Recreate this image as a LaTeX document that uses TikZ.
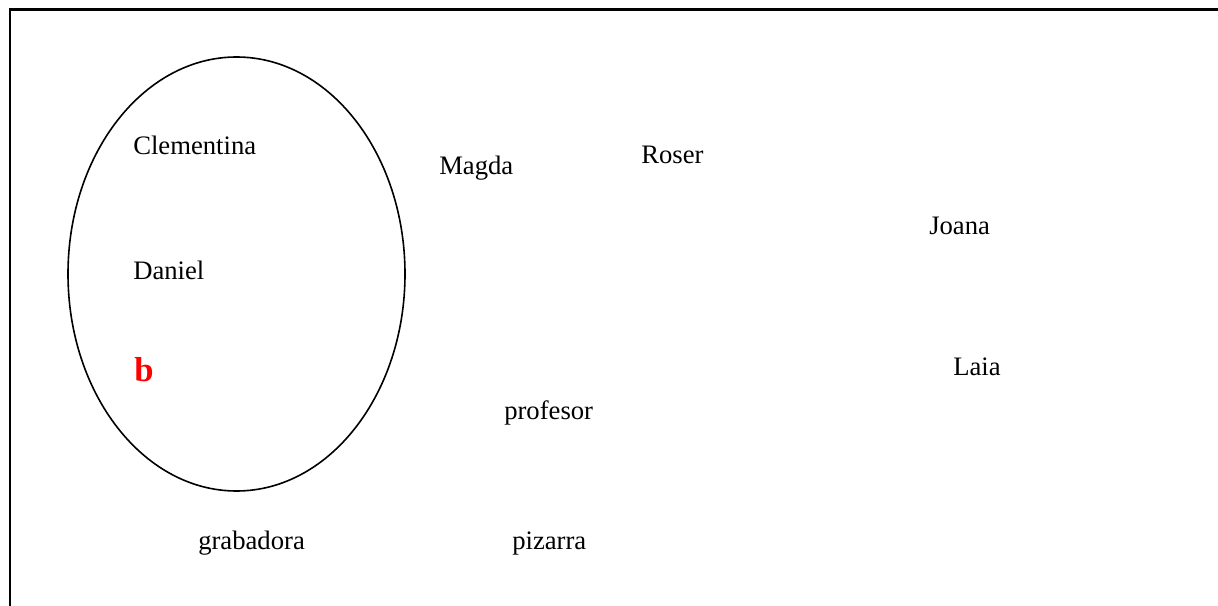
\documentclass[tikz,border=0pt]{standalone}
\usepackage{fontspec}
\setmainfont{Liberation Serif}
\begin{document}
\begin{tikzpicture}[x=0.75pt,y=-0.75pt,
  lbl/.style={anchor=base west,inner sep=0pt,font=\fontsize{20}{24}\selectfont},
  setlbl/.style={anchor=base west,inner sep=0pt,text=red,font=\fontsize{26}{30}\selectfont\bfseries},
  frameline/.style={line width=1.7pt,black},
  setline/.style={line width=1.2pt,black}]
\useasboundingbox (0,0) rectangle (1218,606);
\coordinate (tl) at (10,9.5);
\coordinate (tr) at (1220,9.5);
\coordinate (bl) at (10,608);
\draw[frameline] (bl) -- (tl) -- (tr);
\draw[setline] (236.5,274) ellipse [x radius=168.5, y radius=217];
\node[lbl] (clementina) at (133,155) {Clementina};
\node[lbl] (daniel) at (133,279) {Daniel};
\node[setlbl] (b) at (134,381) {b};
\node[lbl] (magda) at (439,175) {Magda};
\node[lbl] (roser) at (641,164) {Roser};
\node[lbl] (joana) at (929,235) {Joana};
\node[lbl] (laia) at (953,375) {Laia};
\node[lbl] (profesor) at (504,419) {profesor};
\node[lbl] (grabadora) at (198,549) {grabadora};
\node[lbl] (pizarra) at (512,549) {pizarra};
\end{tikzpicture}
\end{document}
